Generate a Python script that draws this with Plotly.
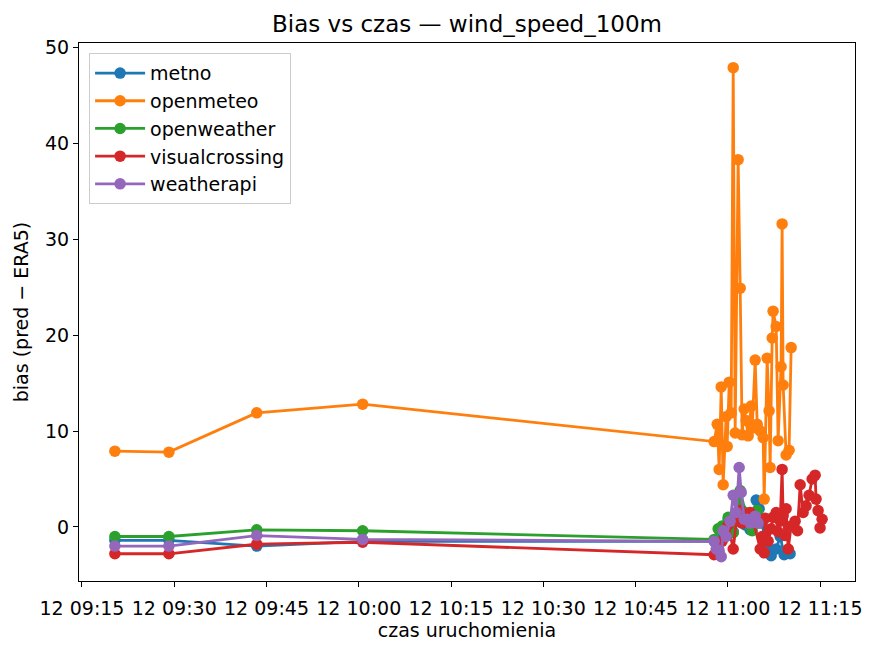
import plotly.graph_objects as go

DAY = "2025-06-12 "

providers = ["metno", "openmeteo", "openweather", "visualcrossing", "weatherapi"]
colors = ["#1f77b4", "#ff7f0e", "#2ca02c", "#d62728", "#9467bd"]

metno_t = ["09:20:21", "09:29:08", "09:43:25", "10:00:38", "10:57:47", "10:58:26",
           "10:59:15", "11:00:04", "11:00:53", "11:01:32", "11:02:11", "11:02:50",
           "11:03:38", "11:04:37", "11:05:06", "11:05:35", "11:06:05", "11:06:34",
           "11:07:03", "11:07:52", "11:08:31", "11:09:10", "11:09:49", "11:10:08"]
metno_bias = [-1.4, -1.4, -2.0, -1.5, -1.5, -2.4,
              -0.8, 0.8, -0.5, 0.6, 1.8, 0.2,
              -0.3, 2.8, 1.9, 0.4, -1.5, -2.2,
              -3.0, -2.3, -1.0, -2.9, -2.4, -2.8]

openmeteo_t = ["09:20:21", "09:29:08", "09:43:25", "10:00:38", "10:57:47", "10:58:17",
               "10:58:36", "10:58:56", "10:59:15", "10:59:44", "10:59:54", "11:00:14",
               "11:00:33", "11:00:53", "11:01:12", "11:01:41", "11:02:01", "11:02:20",
               "11:02:40", "11:02:59", "11:03:19", "11:03:48", "11:03:58", "11:04:27",
               "11:04:47", "11:05:16", "11:05:45", "11:05:55", "11:06:24", "11:06:43",
               "11:06:53", "11:07:13", "11:07:22", "11:07:52", "11:08:11", "11:08:40",
               "11:08:50", "11:09:00", "11:09:29", "11:09:58", "11:10:18"]
openmeteo_bias = [7.9, 7.8, 11.9, 12.8, 8.9, 10.7,
                  6.0, 14.6, 4.4, 11.5, 8.4, 15.1,
                  11.9, 47.9, 9.8, 38.3, 24.9, 9.6,
                  12.3, 11.1, 9.5, 12.6, 10.3, 17.4,
                  10.7, 10.0, 9.3, 2.9, 17.6, 12.1,
                  6.2, 19.7, 22.5, 20.9, 9.0, 16.7,
                  31.6, 14.8, 7.5, 8.0, 18.7]

openweather_t = ["09:20:21", "09:29:08", "09:43:25", "10:00:38", "10:57:47", "10:58:26",
                 "10:59:05", "11:00:04", "11:00:53", "11:01:32", "11:02:01", "11:02:50",
                 "11:03:19", "11:03:58", "11:04:47", "11:04:56", "11:05:16"]
openweather_bias = [-1.0, -1.0, -0.3, -0.4, -1.3, -0.2,
                    0.1, 1.0, -0.6, 2.7, 3.8, 1.5,
                    0.3, -0.4, 1.7, 0.4, 0.9]

visualcrossing_t = ["09:20:21", "09:29:08", "09:43:25", "10:00:38", "10:57:47", "10:58:26",
                    "10:59:05", "11:00:04", "11:00:53", "11:01:32", "11:02:01", "11:02:20",
                    "11:02:50", "11:03:38", "11:04:08", "11:05:16", "11:05:35", "11:05:55",
                    "11:06:05", "11:06:34", "11:07:03", "11:07:22", "11:07:52", "11:08:11",
                    "11:08:31", "11:08:50", "11:09:00", "11:09:19", "11:09:29", "11:09:49",
                    "11:10:18", "11:10:57", "11:11:20", "11:11:46", "11:12:15", "11:12:44",
                    "11:13:13", "11:13:43", "11:14:12", "11:14:21", "11:14:41", "11:15:00",
                    "11:15:20"]
visualcrossing_bias = [-2.8, -2.8, -1.8, -1.6, -2.9, -2.3,
                       -1.5, 0.2, -2.3, 1.3, 1.7, 0.4,
                       0.6, 1.5, 0.7, -2.3, -1.0, -2.7,
                       0.9, -1.5, -0.2, 1.0, 1.5, -0.5,
                       0.6, 6.0, 1.2, -0.9, 1.9, -2.3,
                       0.1, 0.6, -0.4, 4.4, 1.5, 2.2,
                       3.3, 5.0, 5.4, 2.9, 1.7, -0.1,
                       0.8]

weatherapi_t = ["09:20:21", "09:29:08", "09:43:25", "10:00:38", "10:57:47", "10:58:07",
                "10:58:36", "10:58:56", "10:59:15", "10:59:44", "11:00:23", "11:00:53",
                "11:01:22", "11:01:51", "11:02:11", "11:02:40", "11:03:09", "11:03:38",
                "11:04:27", "11:04:56"]
weatherapi_bias = [-2.0, -2.0, -0.9, -1.3, -1.5, -2.3,
                   -2.5, -3.1, -0.4, -1.0, 0.6, 3.3,
                   1.5, 6.2, 3.6, 0.8, 0.8, 0.4,
                   1.1, 0.4]

series = [
    (metno_t, metno_bias),
    (openmeteo_t, openmeteo_bias),
    (openweather_t, openweather_bias),
    (visualcrossing_t, visualcrossing_bias),
    (weatherapi_t, weatherapi_bias),
]

FONT = "DejaVu Sans"
FS = 19

# page body has an 8px margin, so the figure is a bit smaller than the window
W, H = 869, 647

fig = go.Figure()
for name, color, (times, bias) in zip(providers, colors, series):
    fig.add_trace(go.Scatter(
        x=[DAY + t for t in times], y=bias, name=name, mode="lines+markers",
        line=dict(color=color, width=2.8),
        marker=dict(color=color, size=11.5),
    ))

fig.update_layout(
    width=W, height=H,
    margin=dict(l=71, r=22, t=35, b=74),
    paper_bgcolor="white", plot_bgcolor="white",
    font=dict(family=FONT, size=FS, color="black"),
    title=dict(text="Bias vs czas — wind_speed_100m", x=0.5, xref="paper",
               y=1 - 16 / H, yref="container", yanchor="middle",
               font=dict(size=23, color="black")),
    showlegend=True,
    legend=dict(x=0.013, y=0.981, xanchor="left", yanchor="top",
                bgcolor="rgba(255,255,255,0.8)", bordercolor="#cccccc", borderwidth=1,
                font=dict(size=FS), itemwidth=50, tracegroupgap=0),
)

fig.update_xaxes(
    range=[DAY + "09:14:31", DAY + "11:20:41"],
    tick0=DAY + "09:15:00", dtick=15 * 60 * 1000, tickformat="%d %H:%M",
    ticks="outside", ticklen=5, tickwidth=1.2, tickcolor="black", ticklabelstandoff=5,
    showline=True, linecolor="black", linewidth=1.2, mirror=True,
    showgrid=False, zeroline=False, automargin=False,
    title=dict(text="czas uruchomienia", standoff=4, font=dict(size=FS)),
)
fig.update_yaxes(
    range=[-5.64, 50.47],
    tickvals=[0, 10, 20, 30, 40, 50],
    ticks="outside", ticklen=5, tickwidth=1.2, tickcolor="black",
    showline=True, linecolor="black", linewidth=1.2, mirror=True,
    showgrid=False, zeroline=False, automargin=False,
    title=dict(text="bias (pred − ERA5)", standoff=11, font=dict(size=FS)),
)

fig.write_html("out.html")
